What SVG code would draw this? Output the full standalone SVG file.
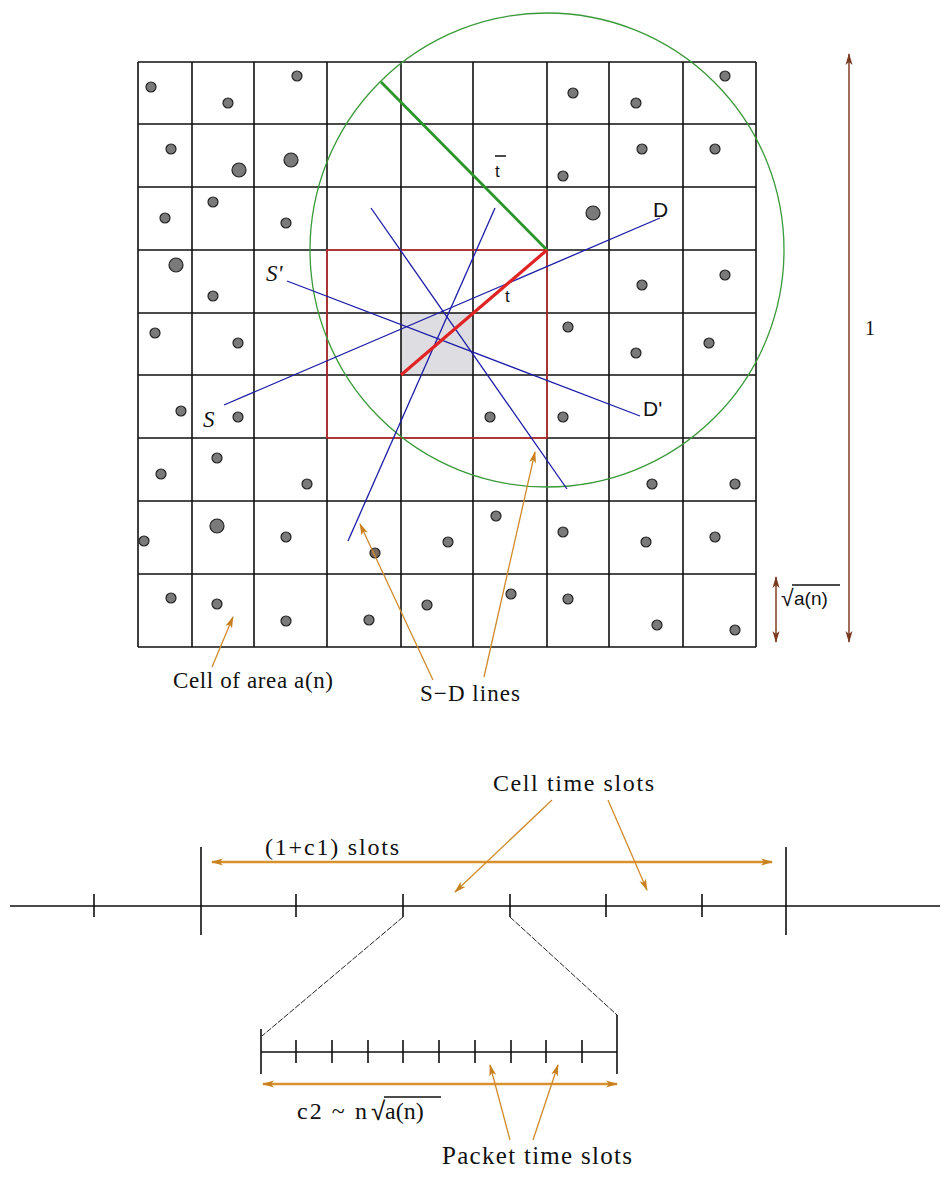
<svg xmlns="http://www.w3.org/2000/svg" width="951" height="1177" viewBox="0 0 951 1177">
<style>
.grid{stroke:#111;stroke-width:1.6;fill:none}
.dot{fill:#7a7a7a;stroke:#222;stroke-width:1.2}
.blue{stroke:#1c1ca8;stroke-width:1.3;fill:none}
.red{stroke:#e03030;stroke-width:1.3;fill:none}
.orange{stroke:#d08a2a;stroke-width:1.3;fill:none}
.orangeT{stroke:#d9902e;stroke-width:2.4;fill:none}
.brown{stroke:#8a4a30;stroke-width:1.6;fill:none}
.blk{stroke:#111;stroke-width:1.6;fill:none}
.thin{stroke:#222;stroke-width:1;fill:none}
.serif{font-family:"Liberation Serif","Times New Roman",serif;fill:#111}
.sans{font-family:"Liberation Sans",Arial,sans-serif;fill:#111}
</style>
<defs>
<marker id="ao" viewBox="0 0 12 8" refX="11" refY="4" markerWidth="12" markerHeight="8" markerUnits="userSpaceOnUse" orient="auto-start-reverse"><path d="M0,0.5 L12,4 L0,7.5 L3,4 z" fill="#c8801e"/></marker>
<marker id="ab" viewBox="0 0 12 8" refX="11" refY="4" markerWidth="12" markerHeight="8" markerUnits="userSpaceOnUse" orient="auto-start-reverse"><path d="M0,0.5 L12,4 L0,7.5 L3,4 z" fill="#7a3a22"/></marker>
</defs>
<rect width="951" height="1177" fill="#fff"/>

<g id="shaded-cell"><rect x="401" y="313" width="72" height="62" fill="#dedee2"/></g>

<g id="grid">
<path class="grid" d="M138,62V647M192,62V647M254,62V647M327,62V647M401,62V647M473,62V647M547,62V647M609,62V647M683,62V647M756,62V647M138,62H756M138,124H756M138,187H756M138,250H756M138,313H756M138,375H756M138,438H756M138,501H756M138,574H756M138,647H756"/>
</g>

<g id="nodes-dots">
<circle class="dot" cx="151" cy="87" r="5"/><circle class="dot" cx="228" cy="103" r="5"/><circle class="dot" cx="297" cy="76" r="5"/><circle class="dot" cx="573" cy="93" r="5"/><circle class="dot" cx="636" cy="103" r="5"/><circle class="dot" cx="725" cy="76" r="5"/>
<circle class="dot" cx="171" cy="149" r="5"/><circle class="dot" cx="239" cy="170" r="7"/><circle class="dot" cx="291" cy="160" r="7"/><circle class="dot" cx="563" cy="176" r="5"/><circle class="dot" cx="642" cy="149" r="5"/><circle class="dot" cx="715" cy="149" r="5"/>
<circle class="dot" cx="165" cy="218" r="5"/><circle class="dot" cx="213" cy="202" r="5"/><circle class="dot" cx="286" cy="223" r="5"/><circle class="dot" cx="593" cy="213" r="7"/>
<circle class="dot" cx="176" cy="265" r="7"/><circle class="dot" cx="213" cy="296" r="5"/><circle class="dot" cx="642" cy="285" r="5"/><circle class="dot" cx="725" cy="275" r="5"/>
<circle class="dot" cx="155" cy="333" r="5"/><circle class="dot" cx="238" cy="343" r="5"/><circle class="dot" cx="568" cy="327" r="5"/><circle class="dot" cx="636" cy="353" r="5"/><circle class="dot" cx="709" cy="343" r="5"/>
<circle class="dot" cx="181" cy="411" r="5"/><circle class="dot" cx="238" cy="417" r="5"/><circle class="dot" cx="490" cy="417" r="5"/><circle class="dot" cx="563" cy="417" r="5"/>
<circle class="dot" cx="161" cy="474" r="5"/><circle class="dot" cx="217" cy="458" r="5"/><circle class="dot" cx="307" cy="484" r="5"/><circle class="dot" cx="652" cy="484" r="5"/><circle class="dot" cx="735" cy="484" r="5"/>
<circle class="dot" cx="144" cy="541" r="5"/><circle class="dot" cx="217" cy="526" r="7"/><circle class="dot" cx="286" cy="537" r="5"/><circle class="dot" cx="375" cy="553" r="5" style="fill:#7a6a5e"/><circle class="dot" cx="496" cy="516" r="5"/><circle class="dot" cx="448" cy="542" r="5"/><circle class="dot" cx="563" cy="532" r="5"/><circle class="dot" cx="646" cy="542" r="5"/><circle class="dot" cx="715" cy="537" r="5"/>
<circle class="dot" cx="171" cy="598" r="5"/><circle class="dot" cx="217" cy="604" r="5"/><circle class="dot" cx="286" cy="621" r="5"/><circle class="dot" cx="369" cy="620" r="5"/><circle class="dot" cx="427" cy="605" r="5"/><circle class="dot" cx="511" cy="594" r="5"/><circle class="dot" cx="568" cy="599" r="5"/><circle class="dot" cx="657" cy="625" r="5"/><circle class="dot" cx="735" cy="630" r="5"/>
</g>

<g id="red-square"><rect class="red" x="327" y="250" width="220" height="188"/></g>
<g id="green-circle"><circle cx="547" cy="250" r="237" fill="none" stroke="#3a9a3a" stroke-width="1.3"/></g>

<g id="connectors">
<line class="blue" x1="224" y1="405" x2="660" y2="218"/>
<line class="blue" x1="287" y1="281" x2="640" y2="416"/>
<line class="blue" x1="371" y1="208" x2="567" y2="489"/>
<line class="blue" x1="495" y1="208" x2="348" y2="541"/>
<line x1="547" y1="250" x2="381" y2="82" stroke="#2a962a" stroke-width="2.8"/>
<line x1="401" y1="375" x2="547" y2="250" stroke="#e02424" stroke-width="3.2"/>
<line class="orange" x1="212" y1="667" x2="233" y2="617" marker-end="url(#ao)"/>
<line class="orange" x1="433" y1="680" x2="360" y2="524" marker-end="url(#ao)"/>
<line class="orange" x1="484" y1="677" x2="535" y2="452" marker-end="url(#ao)"/>
<line class="brown" x1="849" y1="54" x2="849" y2="642" marker-start="url(#ab)" marker-end="url(#ab)"/>
<line class="brown" x1="776" y1="577" x2="776" y2="642" marker-start="url(#ab)" marker-end="url(#ab)"/>
</g>

<g id="labels-grid">
<text class="serif" x="203" y="427" font-size="23" font-style="italic">S</text>
<text class="serif" x="266" y="281" font-size="23" font-style="italic">S'</text>
<text class="sans" x="653" y="217" font-size="21">D</text>
<text class="sans" x="643" y="416" font-size="21">D'</text>
<text class="sans" x="505" y="302" font-size="17">t</text>
<text class="sans" x="495" y="177" font-size="17">t</text>
<line x1="495" y1="156" x2="506" y2="156" stroke="#111" stroke-width="1.5"/>
<text class="serif" x="865" y="335" font-size="20">1</text>
<text class="sans" x="781" y="606" font-size="23">√</text>
<text class="sans" x="794" y="605" font-size="19">a(n)</text>
<line x1="792" y1="585" x2="840" y2="585" stroke="#111" stroke-width="1.3"/>
<text class="serif" x="173" y="688" font-size="23" textLength="160" lengthAdjust="spacing">Cell of area a(n)</text>
<text class="serif" x="420" y="701" font-size="23" textLength="100" lengthAdjust="spacing">S−D lines</text>
</g>

<g id="timeline">
<path class="blk" d="M10,906H940M94,894V917M296,894V917M403,894V917M510,894V917M606,894V917M702,894V917M201,847V935M786,847V935"/>
<path class="thin" d="M403,917L262,1036M510,917L617,1015" stroke-dasharray="6,1.5"/>
<path class="blk" d="M261,1052H617M261,1029V1074M617,1015V1074M296,1040V1063M332,1040V1063M368,1040V1063M403,1040V1063M439,1040V1063M475,1040V1063M511,1040V1063M546,1040V1063M582,1040V1063"/>
<line class="orangeT" x1="212" y1="862" x2="772" y2="862" marker-start="url(#ao)" marker-end="url(#ao)"/>
<line class="orangeT" x1="263" y1="1084" x2="617" y2="1084" marker-start="url(#ao)" marker-end="url(#ao)"/>
<line class="orange" x1="552" y1="800" x2="455" y2="892" marker-end="url(#ao)"/>
<line class="orange" x1="608" y1="800" x2="647" y2="890" marker-end="url(#ao)"/>
<line class="orange" x1="510" y1="1140" x2="490" y2="1065" marker-end="url(#ao)"/>
<line class="orange" x1="533" y1="1140" x2="558" y2="1065" marker-end="url(#ao)"/>
<text class="serif" x="493" y="791" font-size="24" textLength="161" lengthAdjust="spacing">Cell time slots</text>
<text class="serif" x="265" y="855" font-size="24" textLength="134" lengthAdjust="spacing">(1+c1) slots</text>
<text class="serif" x="297" y="1119" font-size="24" textLength="70" lengthAdjust="spacing">c2 ~ n</text>
<text class="sans" x="371" y="1120" font-size="26">√</text>
<text class="serif" x="385" y="1119" font-size="24">a(n)</text>
<line x1="384" y1="1097" x2="441" y2="1097" stroke="#111" stroke-width="1.3"/>
<text class="serif" x="442" y="1164" font-size="25" textLength="190" lengthAdjust="spacing">Packet time slots</text>
</g>
</svg>
